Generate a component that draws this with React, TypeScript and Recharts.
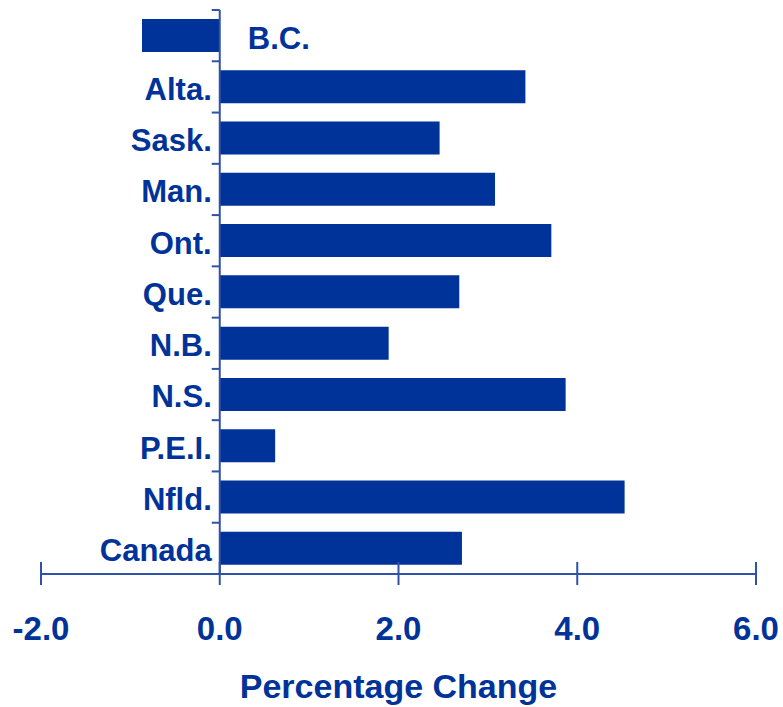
import { BarChart, Bar, XAxis, YAxis, ReferenceLine, LabelList } from 'recharts';

const BLUE = '#003399';
const LINE = '#2f52a8';
const FONT = '"Liberation Sans", Arial, sans-serif';

const provinces = ['B.C.', 'Alta.', 'Sask.', 'Man.', 'Ont.', 'Que.', 'N.B.', 'N.S.', 'P.E.I.', 'Nfld.', 'Canada'];
const changes = [-0.87, 3.42, 2.46, 3.08, 3.71, 2.68, 1.89, 3.87, 0.62, 4.53, 2.71];
const xTicks = [-2, 0, 2, 4, 6];

const rows = provinces.map((name, i) => ({ name, value: changes[i] }));

const NameLabel = (props: any) => {
  const { x, y, width, height, index } = props;
  const v = changes[index];
  const zero = v >= 0 ? Math.min(x, x + width) : Math.max(x, x + width);
  const tx = v >= 0 ? zero - 8 : zero + 28;
  return (
    <text
      x={tx}
      y={y + height / 2 + 13}
      textAnchor={v >= 0 ? 'end' : 'start'}
      fill={BLUE}
      fontSize={31}
      fontWeight="bold"
      fontFamily={FONT}
    >
      {provinces[index]}
    </text>
  );
};

const App = () => {
  return (
    <div style={{ position: 'absolute', left: 0, top: 0, width: 783, height: 707 }}>
      <BarChart
        width={783}
        height={707}
        data={rows}
        layout="vertical"
        margin={{ top: 10, right: 27, bottom: 0, left: 41 }}
      >
        <XAxis
          type="number"
          domain={[-2, 6]}
          ticks={xTicks}
          tickFormatter={(v: number) => v.toFixed(1)}
          height={133}
          axisLine={{ stroke: LINE, strokeWidth: 2 }}
          tickLine={{ stroke: LINE, strokeWidth: 2, transform: 'translate(0,-12)' }}
          tickSize={23}
          tickMargin={20}
          tick={{ fill: BLUE, fontSize: 33, fontWeight: 'bold', fontFamily: FONT }}
          label={{
            value: 'Percentage Change',
            position: 'insideBottom',
            offset: 9,
            fill: BLUE,
            fontSize: 34,
            fontWeight: 'bold',
            fontFamily: FONT,
          }}
        />
        <YAxis dataKey="name" type="category" hide />
        <Bar dataKey="value" fill={BLUE} barSize={33} isAnimationActive={false}>
          <LabelList dataKey="name" content={NameLabel} />
        </Bar>
        <ReferenceLine x={0} stroke={LINE} strokeWidth={2} />
        {provinces.map((p) => (
          <ReferenceLine
            key={p}
            position="start"
            segment={[{ x: -0.09, y: p }, { x: 0, y: p }]}
            stroke={LINE}
            strokeWidth={2}
          />
        ))}
        <ReferenceLine
          position="end"
          segment={[{ x: -0.09, y: provinces[provinces.length - 1] }, { x: 0, y: provinces[provinces.length - 1] }]}
          stroke={LINE}
          strokeWidth={2}
        />
      </BarChart>
    </div>
  );
};

export default App;
